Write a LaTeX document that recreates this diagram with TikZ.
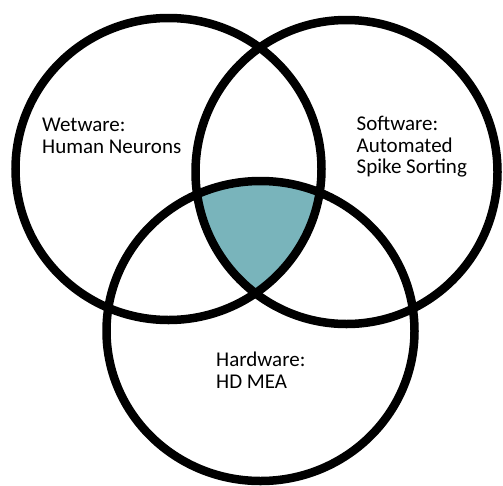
\documentclass[tikz,border=0pt]{standalone}
\usepackage{fontspec}
\setmainfont{Carlito}
\definecolor{core}{RGB}{121,180,187}
\begin{document}
\begin{tikzpicture}[x=1pt,y=-1pt,
  ring/.style={draw=black,line width=8.5pt},
  % base anchor sits on the baseline of the last line
  label/.style={anchor=base west,inner sep=0pt,align=left,
    font=\fontsize{21}{21.6}\selectfont}]
  \useasboundingbox (0,0) rectangle (503,485);
  % set outlines: centres and radii
  \coordinate (cw) at (168.5,169);
  \coordinate (cs) at (346.5,172);
  \coordinate (ch) at (260.5,331);
  \def\wetshape{(cw) ellipse[x radius=153,y radius=151]}
  \def\softshape{(cs) ellipse[x radius=151,y radius=152]}
  \def\hardshape{(ch) ellipse[x radius=154,y radius=150]}
  % region shared by all three sets
  \begin{scope}
    \clip \wetshape;
    \clip \softshape;
    \fill[core] \hardshape;
  \end{scope}
  \draw[ring] \wetshape;
  \draw[ring] \softshape;
  \draw[ring] \hardshape;
  \node[label] (wet) at (42,153.2) {Wetware:\\Human Neurons};
  \node[label] (soft) at (356.5,173.8) {Software:\\Automated\\Spike Sorting};
  \node[label] (hard) at (216,388.5) {Hardware:\\HD MEA};
\end{tikzpicture}
\end{document}
